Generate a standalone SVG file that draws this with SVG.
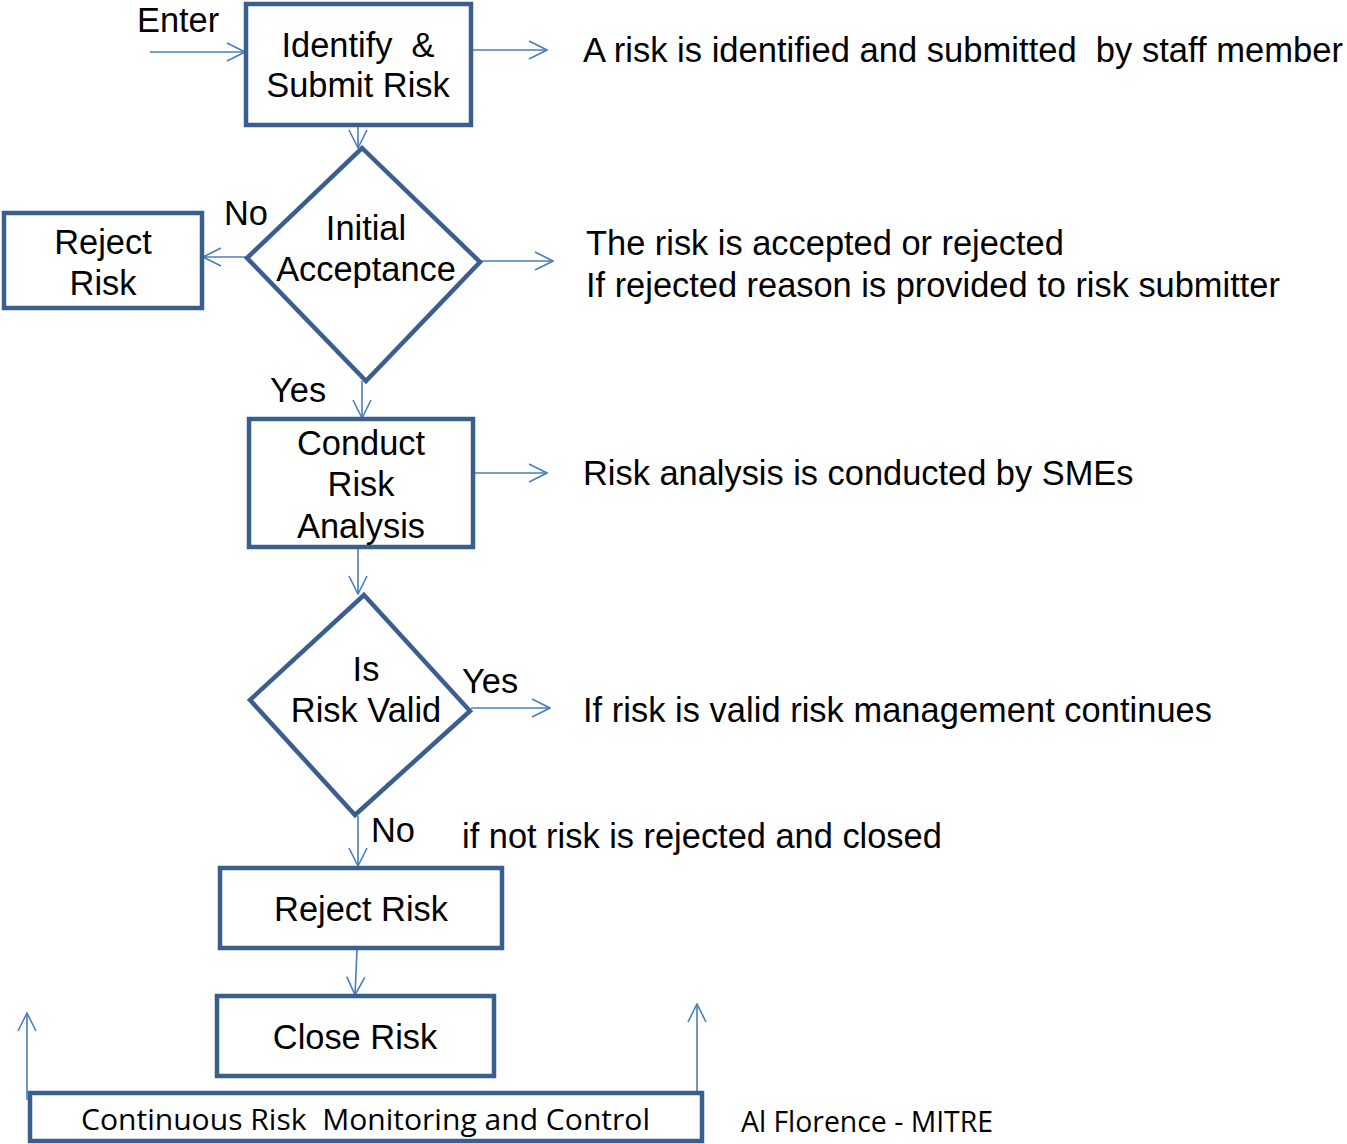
<svg xmlns="http://www.w3.org/2000/svg" width="1347" height="1144" viewBox="0 0 1347 1144">
<style>
.n{fill:#fff;stroke:#3a5f8e;stroke-width:4.5}
.t{font-family:"Liberation Sans",Arial,sans-serif;font-size:34.4px;fill:#000;white-space:pre}
.c{text-anchor:middle}
.k{font-family:"Open Sans","Noto Sans",sans-serif;font-size:30px;fill:#000;white-space:pre}
.e{stroke:#4a7ebb;stroke-width:1.6;fill:none}
</style>
<defs>
<marker id="a" viewBox="0 0 20 20" refX="19" refY="10" markerWidth="20" markerHeight="20" markerUnits="userSpaceOnUse" orient="auto">
<path d="M1,1 L19,10 L1,19" fill="none" stroke="#4a7ebb" stroke-width="1.6"/>
</marker>
</defs>
<rect width="1347" height="1144" fill="#fff"/>
<g id="connectors">
<line class="e" x1="150" y1="52" x2="245" y2="52" marker-end="url(#a)"/>
<line class="e" x1="473" y1="50" x2="547" y2="50" marker-end="url(#a)"/>
<line class="e" x1="358" y1="126" x2="358" y2="148" marker-end="url(#a)"/>
<line class="e" x1="246" y1="257" x2="203" y2="257" marker-end="url(#a)"/>
<line class="e" x1="481" y1="261" x2="553" y2="261" marker-end="url(#a)"/>
<line class="e" x1="362" y1="381" x2="362" y2="418" marker-end="url(#a)"/>
<line class="e" x1="475" y1="473" x2="547" y2="473" marker-end="url(#a)"/>
<line class="e" x1="358" y1="549" x2="358" y2="594" marker-end="url(#a)"/>
<line class="e" x1="471" y1="708" x2="550" y2="708" marker-end="url(#a)"/>
<line class="e" x1="358" y1="816" x2="358" y2="866" marker-end="url(#a)"/>
<line class="e" x1="357" y1="950" x2="355" y2="995" marker-end="url(#a)"/>
<line class="e" x1="27" y1="1100" x2="27" y2="1013" marker-end="url(#a)"/>
<line class="e" x1="697" y1="1091" x2="697" y2="1004" marker-end="url(#a)"/>
</g>
<g id="identify">
<rect class="n" x="246" y="4" width="225" height="121"/>
<text class="t c" x="358" y="57">Identify  &amp;</text>
<text class="t c" x="358" y="97">Submit Risk</text>
</g>
<g id="initial">
<polygon class="n" points="362,148 480,262 366,381 247,258"/>
<text class="t c" x="366" y="240">Initial</text>
<text class="t c" x="366" y="281">Acceptance</text>
</g>
<g id="reject1">
<rect class="n" x="4" y="213" width="198" height="95"/>
<text class="t c" x="103" y="254">Reject</text>
<text class="t c" x="103" y="295">Risk</text>
</g>
<g id="analysis">
<rect class="n" x="249" y="419" width="224" height="128"/>
<text class="t c" x="361" y="455">Conduct</text>
<text class="t c" x="361" y="496">Risk</text>
<text class="t c" x="361" y="538">Analysis</text>
</g>
<g id="valid">
<polygon class="n" points="364,595 470,711 355,815 250,700"/>
<text class="t c" x="366" y="681">Is</text>
<text class="t c" x="366" y="722">Risk Valid</text>
</g>
<g id="reject2">
<rect class="n" x="220" y="868" width="282" height="80"/>
<text class="t c" x="361" y="921">Reject Risk</text>
</g>
<g id="close">
<rect class="n" x="217" y="996" width="277" height="80"/>
<text class="t c" x="355" y="1049">Close Risk</text>
</g>
<g id="monitor">
<rect class="n" x="30" y="1093" width="672" height="48"/>
<text class="k" x="81" y="1130" textLength="569" lengthAdjust="spacingAndGlyphs">Continuous Risk  Monitoring and Control</text>
</g>
<g id="labels">
<text class="t" x="137" y="32">Enter</text>
<text class="t" x="224" y="225">No</text>
<text class="t" x="270" y="402">Yes</text>
<text class="t" x="462" y="693">Yes</text>
<text class="t" x="371" y="842">No</text>
<text class="t" x="583" y="62" textLength="760" lengthAdjust="spacingAndGlyphs">A risk is identified and submitted  by staff member</text>
<text class="t" x="586" y="255">The risk is accepted or rejected</text>
<text class="t" x="586" y="297">If rejected reason is provided to risk submitter</text>
<text class="t" x="583" y="485">Risk analysis is conducted by SMEs</text>
<text class="t" x="583" y="722" textLength="629" lengthAdjust="spacing">If risk is valid risk management continues</text>
<text class="t" x="462" y="848">if not risk is rejected and closed</text>
<text class="k" x="741" y="1132" textLength="252" lengthAdjust="spacingAndGlyphs">Al Florence - MITRE</text>
</g>
</svg>
